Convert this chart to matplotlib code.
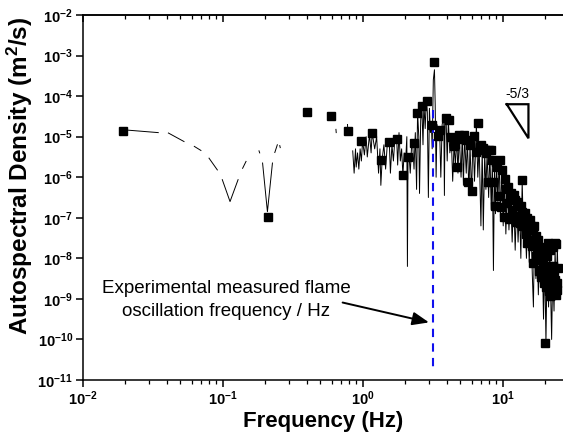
import numpy as np
import matplotlib
matplotlib.use("Agg")
import matplotlib.pyplot as plt
from matplotlib.ticker import FixedLocator, FixedFormatter, LogLocator, NullFormatter

plt.rcParams['font.family'] = ['Liberation Sans', 'DejaVu Sans']
plt.rcParams['mathtext.fontset'] = 'custom'
plt.rcParams['mathtext.rm'] = 'Liberation Sans'
plt.rcParams['mathtext.bf'] = 'Liberation Sans:bold'
plt.rcParams['mathtext.it'] = 'Liberation Sans:italic'

# ---------------- data ----------------
# square markers: frequency (Hz) and log10 of autospectral density
marker_freq = [0.0195, 0.21, 0.40, 0.59, 0.79, 0.975, 1.16, 1.35, 1.55, 1.75,
               1.93, 2.12, 2.31, 2.46, 2.67, 2.89, 3.12, 3.26, 3.48, 3.57,
               3.92, 4.115, 4.31, 4.505, 4.57, 4.70, 4.895, 5.09, 5.285, 5.48,
               5.675, 5.87, 6.065, 6.26, 6.455, 6.65, 6.845, 7.04, 7.235, 7.43,
               7.625, 7.82, 8.015, 8.21, 8.405, 8.60, 8.795, 8.99, 9.185, 9.38,
               9.575, 9.77, 9.965, 10.16, 10.355, 10.55, 10.745, 10.94, 11.135, 11.33,
               11.525, 11.72, 11.915, 12.11, 12.305, 12.50, 12.695, 12.89, 13.085, 13.28,
               13.475, 13.67, 13.865, 14.06, 14.255, 14.45, 14.645, 14.84, 15.035, 15.23,
               15.425, 15.62, 15.815, 16.01, 16.205, 16.40, 16.595, 16.79, 16.985, 17.18,
               17.375, 17.57, 17.765, 17.96, 18.155, 18.35, 18.545, 18.74, 18.935, 19.13,
               19.325, 19.52, 19.715, 19.91, 20.105, 20.30, 20.495, 20.69, 20.885, 21.08,
               21.275, 21.47, 21.665, 21.86, 22.055, 22.25, 22.445, 22.64, 22.835, 23.03,
               23.225, 23.42, 23.615, 23.81, 24.005, 24.20, 24.395, 24.59, 24.785]
marker_log_psd = [-4.85, -6.97, -4.38, -4.48, -4.87, -5.10, -4.91, -5.57, -5.14, -5.06,
                  -5.94, -5.51, -5.16, -4.41, -4.24, -4.11, -4.71, -3.15, -4.98, -4.83,
                  -4.55, -4.60, -5.01, -5.23, -5.19, -5.74, -4.96, -5.05, -4.97, -5.08,
                  -6.12, -5.20, -6.35, -4.98, -5.38, -4.67, -5.25, -5.20, -5.29, -5.33,
                  -5.41, -6.12, -5.34, -5.33, -5.57, -6.11, -6.72, -5.62, -5.74, -6.47,
                  -5.57, -6.74, -5.82, -6.97, -6.04, -6.30, -6.64, -6.23, -7.02, -6.50,
                  -6.39, -6.80, -6.97, -6.45, -6.56, -7.10, -6.60, -6.72, -6.95, -7.13,
                  -6.70, -6.85, -6.08, -7.20, -6.95, -6.89, -7.40, -7.62, -7.00, -7.30,
                  -7.15, -7.05, -7.55, -7.20, -7.70, -7.25, -8.12, -7.21, -7.60, -7.95,
                  -7.46, -7.80, -8.05, -7.55, -8.30, -7.71, -8.28, -7.90, -8.45, -7.75,
                  -8.10, -7.87, -8.50, -8.61, -10.10, -7.95, -8.70, -7.95, -8.35, -7.62,
                  -8.80, -8.20, -8.94, -7.80, -8.45, -8.90, -7.70, -8.61, -8.20, -7.71,
                  -8.75, -8.30, -7.62, -8.53, -8.90, -7.65, -8.60, -8.77, -8.25]

# thin spectrum line (NaN = gap in the drawn line)
nan = np.nan
line_freq = [0.0195, 0.0347, nan, 0.041, 0.053, nan, 0.0628, 0.070, nan,
             0.080, 0.0917, nan, 0.0995, 0.113, 0.129, nan, 0.139, 0.147, nan,
             0.182, 0.184, nan, 0.193, 0.209, 0.227, nan, 0.236, 0.246, nan,
             0.256, 0.258, nan, 0.645, 0.648, nan, 0.78, 0.782, nan,
             0.85, 0.87, 0.89, 0.90, 0.92, 0.94, 0.96, 0.98, 1.00, 1.03,
             1.06, 1.08, 1.12, 1.15, 1.17, 1.22, 1.26, 1.30, 1.33, 1.35,
             1.38, 1.42, 1.46, 1.50, 1.55, 1.58, 1.62, 1.66, 1.70, 1.75,
             1.78, 1.82, 1.86, 1.90, 1.94, 1.98, 2.03, 2.07, 2.09, 2.11,
             2.15, 2.19, 2.24, 2.28, 2.33, 2.38, 2.43, 2.47, 2.52, 2.55,
             2.60, 2.65, 2.70, 2.74, 2.80, 2.85, 2.90, 2.95, 3.00, 3.05,
             3.10, 3.14, 3.20, 3.26, 3.30, 3.35, 3.40, 3.48, 3.55, 3.62,
             3.70, 3.80, 3.84, 3.88, 3.95, 4.02, 4.10, 4.20, 4.30, 4.40,
             4.50, 4.60, 4.70, 4.80, 4.90, 5.05, 5.15, 5.25, 5.35, 5.50,
             5.60, 5.75, 5.85, 6.00, 6.15, 6.30, 6.50, 6.65, 6.80, 7.00,
             7.15, 7.28, 7.45, 7.60, 7.75, 7.95, 8.10, 8.30, 8.45, 8.60,
             8.75, 8.90, 9.05, 9.25, 9.45, 9.65, 9.85, 10.1, 10.3, 10.55,
             10.8, 11.1, 11.4, 11.7, 12.0, 12.3, 12.6, 12.9, 13.2, 13.5,
             13.8, 14.1, 14.4, 14.8, 15.1, 15.5, 15.9, 16.3, 16.6, 16.9,
             17.3, 17.6, 18.0, 18.4, 18.8, 19.2, 19.6, 20.0, 20.4, 20.8,
             21.3, 21.7, 22.1, 22.4, 22.8, 23.3, 23.7, 24.2, 24.6, 25.0]
line_log_psd = [-4.83, -4.90, nan, -4.91, -5.12, nan, -5.24, -5.34, nan,
                -5.53, -5.82, nan, -6.06, -6.60, -6.06, nan, -5.78, -5.61, nan,
                -5.35, -5.40, nan, -5.65, -6.85, -5.65, nan, -5.39, -5.20, nan,
                -5.22, -5.27, nan, -4.82, -4.90, nan, -4.70, -4.77, nan,
                -5.35, -5.90, -5.30, -5.75, -5.40, -5.80, -5.30, -5.60, -5.10, -5.45,
                -5.00, -5.50, -4.95, -5.40, -4.90, -5.30, -5.00, -5.90, -5.30, -6.20,
                -5.55, -5.20, -5.80, -5.20, -5.10, -5.90, -5.20, -5.60, -5.05, -5.00,
                -5.70, -4.90, -5.60, -5.30, -5.95, -5.40, -5.60, -5.00, -8.20, -5.50,
                -5.50, -5.90, -5.20, -5.20, -5.80, -4.90, -6.30, -4.40, -5.00, -6.40,
                -4.60, -4.25, -5.20, -4.20, -4.80, -4.05, -4.40, -6.50, -4.30, -4.90,
                -4.70, -5.30, -3.60, -3.35, -4.20, -6.00, -4.70, -5.00, -4.85, -6.00,
                -4.70, -4.50, -6.45, -4.55, -4.60, -5.60, -4.60, -5.40, -5.00, -6.10,
                -5.20, -5.70, -5.00, -5.90, -4.95, -6.00, -4.95, -6.20, -5.00, -5.90,
                -5.10, -6.40, -5.20, -6.40, -5.00, -6.10, -4.70, -6.00, -5.20, -7.20,
                -5.30, -7.30, -5.40, -6.30, -5.40, -6.50, -5.35, -6.80, -5.60, -8.30,
                -5.70, -6.90, -5.70, -6.60, -5.60, -7.00, -5.80, -7.20, -6.00, -7.40,
                -6.20, -7.30, -6.40, -7.60, -6.50, -7.80, -6.60, -7.60, -6.70, -8.00,
                -6.10, -7.40, -6.90, -8.00, -7.00, -8.10, -7.00, -8.40, -9.20, -7.30,
                -8.50, -7.50, -8.90, -7.70, -8.60, -7.90, -9.50, -8.00, -10.10, -8.00,
                -9.20, -7.70, -9.00, -10.00, -8.30, -9.30, -7.80, -8.90, -7.70, -8.80]

measured_freq = 3.18          # flame oscillation frequency (blue dashed line)
measured_span = [-4.35, -10.80]  # log10 extent of the dashed line

slope_tri_freq = [10.7, 15.3, 15.3, 10.7]
slope_tri_log_psd = [-4.20, -4.20, -5.04, -4.20]

x_tick_vals = [1e-2, 1e-1, 1e0, 1e1]
x_tick_labels = [r'$\mathbf{10^{-2}}$', r'$\mathbf{10^{-1}}$', r'$\mathbf{10^{0}}$', r'$\mathbf{10^{1}}$']
y_tick_exps = [-11, -10, -9, -8, -7, -6, -5, -4, -3, -2]
y_tick_labels = [r'$\mathbf{10^{%d}}$' % e for e in y_tick_exps]

# ---------------- figure ----------------
W, H = 563, 441
fig = plt.figure(figsize=(W / 100, H / 100), dpi=100)
left_px, bottom_px, top_px = 82.6, 380, 15
ax = fig.add_axes([left_px / W, 1 - bottom_px / H, (W - left_px) / W, (bottom_px - top_px) / H])
ax.set_xscale('log')
ax.set_yscale('log')
ax.set_xlim(1e-2, 10 ** (-2 + (W - left_px) / 140.0))
ax.set_ylim(1e-11, 1e-2)

lf = np.array(line_freq, dtype=float)
lp = 10 ** np.array(line_log_psd, dtype=float)
ax.plot(lf, lp, color='black', lw=0.7, zorder=2)

ax.plot([measured_freq, measured_freq], 10 ** np.array(measured_span), color='#1010ee',
        lw=1.5, ls=(0, (4, 3)), zorder=3)

ax.plot(marker_freq, 10 ** np.array(marker_log_psd), ls='none', marker='s',
        ms=6.0, color='black', zorder=4)

ax.plot(slope_tri_freq, 10 ** np.array(slope_tri_log_psd), color='black', lw=1.6,
        solid_joinstyle='miter', zorder=4)
ax.text(12.8, 10 ** -3.95, '-5/3', fontsize=10, ha='center', va='center')

ax.annotate('', xy=(2.98, 10 ** -9.58), xytext=(0.72, 10 ** -9.09),
            arrowprops=dict(arrowstyle='-|>,head_length=1.0,head_width=0.4',
                            color='black', lw=1.4, shrinkA=0, shrinkB=0))
ax.text(0.106, 10 ** -9.03, 'Experimental measured flame\noscillation frequency / Hz',
        fontsize=13.5, ha='center', va='center', linespacing=1.45)

# axes styling
ax.spines['right'].set_visible(False)
for s in ['left', 'bottom', 'top']:
    ax.spines[s].set_linewidth(1.1)

ax.xaxis.set_major_locator(FixedLocator(x_tick_vals))
ax.xaxis.set_major_formatter(FixedFormatter(x_tick_labels))
ax.xaxis.set_minor_locator(LogLocator(base=10, subs=np.arange(2, 10), numticks=20))
ax.xaxis.set_minor_formatter(NullFormatter())
ax.yaxis.set_major_locator(FixedLocator([10.0 ** e for e in y_tick_exps]))
ax.yaxis.set_major_formatter(FixedFormatter(y_tick_labels))
ax.yaxis.set_minor_locator(FixedLocator([]))

ax.tick_params(axis='x', which='major', direction='out', length=5, width=1.1,
               labelsize=10.5, top=False, pad=2)
ax.tick_params(axis='x', which='minor', direction='out', length=3, width=0.9, top=False)
ax.tick_params(axis='y', which='major', direction='out', length=5, width=1.1,
               labelsize=10.5, right=False, pad=2)

# top-side inward ticks
axt = ax.secondary_xaxis('top')
axt.xaxis.set_major_locator(FixedLocator(x_tick_vals))
axt.xaxis.set_minor_locator(LogLocator(base=10, subs=np.arange(2, 10), numticks=20))
axt.tick_params(axis='x', which='major', direction='in', length=5, width=1.1, labeltop=False)
axt.tick_params(axis='x', which='minor', direction='in', length=3, width=0.9, labeltop=False)
axt.spines['top'].set_linewidth(1.1)

ax.set_xlabel('Frequency (Hz)', fontsize=16, fontweight='bold', labelpad=2)
ax.set_ylabel(r'Autospectral Density (m$^{\mathbf{2}}$/s)', fontsize=17.5, fontweight='bold')
ax.yaxis.set_label_coords(-0.10, 0.56)

fig.savefig('out.png', dpi=100)
